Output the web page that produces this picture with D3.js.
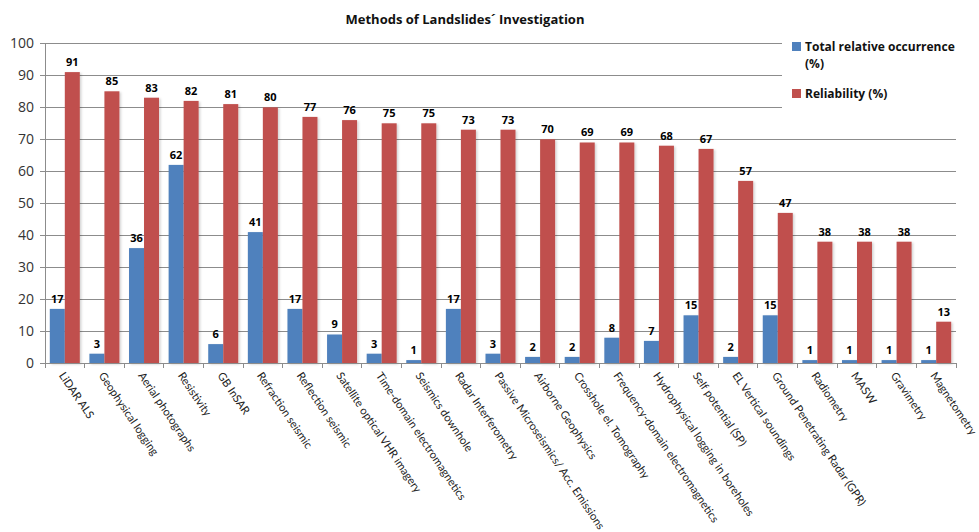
<!DOCTYPE html>
<html>
<head>
<meta charset="utf-8">
<script src="https://cdn.jsdelivr.net/npm/d3@7"></script>
<style>
  html, body { margin: 0; padding: 0; background: #fff; }
  svg { display: block; font-family: "Open Sans", "Noto Sans", sans-serif; }
</style>
</head>
<body>
<svg id="chart" width="979" height="532"></svg>
<script>
// Survey methods, in the order shown on the x axis
const methods = [
  "LiDAR ALS", "Geophysical logging", "Aerial photographs", "Resistivity", "GB InSAR",
  "Refraction seismic", "Reflection seismic", "Satellite optical VHR imagery",
  "Time-domain electromagnetics", "Seismics downhole", "Radar Interferometry",
  "Passive Microseismics/ Acc. Emissions", "Airborne Geophysics", "Crosshole el. Tomography",
  "Frequency-domain electromagnetics", "Hydrophysical logging in boreholes",
  "Self potential (SP)", "EL Vertical soundings", "Ground Penetrating Radar (GPR)",
  "Radiometry", "MASW", "Gravimetry", "Magnetometry"
];

// Total relative occurrence (%)
const occurrence = [17, 3, 36, 62, 6, 41, 17, 9, 3, 1, 17, 3, 2, 2, 8, 7, 15, 2, 15, 1, 1, 1, 1];

// Reliability (%)
const reliability = [91, 85, 83, 82, 81, 80, 77, 76, 75, 75, 73, 73, 70, 69, 69, 68, 67, 57, 47, 38, 38, 38, 13];

const seriesNames = ["Total relative occurrence (%)", "Reliability (%)"];
const seriesColors = ["#4F81BD", "#C0504D"];
const yTicks = [0, 10, 20, 30, 40, 50, 60, 70, 80, 90, 100];

const svg = d3.select("#chart");
const margin = { left: 45, right: 23, top: 43.3, bottom: 168.7 };
const W = 979, H = 532;
const innerW = W - margin.left - margin.right;
const innerH = H - margin.top - margin.bottom;

const rows = methods.map((m, i) => ({ method: m, values: [occurrence[i], reliability[i]] }));

const x0 = d3.scaleBand().domain(methods).range([0, innerW]).paddingInner(0).paddingOuter(0);
const x1 = d3.scaleBand().domain([0, 1]).range([0, x0.bandwidth()]).paddingInner(0).paddingOuter(0.32);
const y = d3.scaleLinear().domain([0, 100]).range([innerH, 0]);

// soft drop shadow under the bars
const defs = svg.append("defs");
const f = defs.append("filter").attr("id", "shadow").attr("x", "-30%").attr("y", "-10%").attr("width", "170%").attr("height", "130%");
f.append("feDropShadow").attr("dx", 1.5).attr("dy", 1).attr("stdDeviation", 1.2).attr("flood-color", "#000").attr("flood-opacity", 0.18);

const g = svg.append("g").attr("transform", `translate(${margin.left},${margin.top})`);

// horizontal gridlines
g.append("g").selectAll("line").data(yTicks.filter(d => d > 0)).join("line")
  .attr("x1", 0).attr("x2", innerW)
  .attr("y1", d => y(d)).attr("y2", d => y(d))
  .attr("stroke", "#8c8c8c").attr("stroke-width", 1).attr("shape-rendering", "crispEdges");

// y axis
const yAxis = g.append("g").call(d3.axisLeft(y).tickValues(yTicks).tickSize(5).tickPadding(6));
yAxis.select(".domain").attr("stroke", "#8c8c8c").attr("shape-rendering", "crispEdges");
yAxis.selectAll(".tick line").attr("stroke", "#8c8c8c").attr("shape-rendering", "crispEdges");
yAxis.selectAll("text").attr("font-size", 14).attr("fill", "#333").attr("font-family", "'Open Sans', sans-serif");

// bars
const groups = g.append("g").selectAll("g").data(rows).join("g")
  .attr("transform", d => `translate(${x0(d.method)},0)`);

groups.selectAll("rect").data(d => d.values.map((v, k) => ({ k, v }))).join("rect")
  .attr("x", d => x1(d.k))
  .attr("width", x1.bandwidth())
  .attr("y", d => y(d.v))
  .attr("height", d => innerH - y(d.v))
  .attr("fill", d => seriesColors[d.k])
  .attr("filter", "url(#shadow)");

// value labels above bars
groups.selectAll("text.val").data(d => d.values.map((v, k) => ({ k, v }))).join("text")
  .attr("class", "val")
  .attr("x", d => x1(d.k) + x1.bandwidth() / 2)
  .attr("y", d => y(d.v) - 6)
  .attr("text-anchor", "middle")
  .attr("font-size", 11)
  .attr("font-weight", "bold")
  .attr("fill", "#000")
  .text(d => d3.format("d")(d.v));

// x axis
const xAxisG = g.append("g").attr("transform", `translate(0,${innerH})`);
xAxisG.append("line").attr("x1", 0).attr("x2", innerW).attr("y1", 0).attr("y2", 0)
  .attr("stroke", "#8c8c8c").attr("shape-rendering", "crispEdges");
xAxisG.selectAll("line.tk").data(d3.range(methods.length + 1)).join("line")
  .attr("class", "tk")
  .attr("x1", i => i * x0.step()).attr("x2", i => i * x0.step())
  .attr("y1", 0).attr("y2", 5)
  .attr("stroke", "#8c8c8c").attr("shape-rendering", "crispEdges");
xAxisG.selectAll("text").data(methods).join("text")
  .attr("transform", d => `translate(${x0(d) + x0.bandwidth() / 2 - 3},${10}) rotate(56)`)
  .attr("text-anchor", "start")
  .attr("dy", "0.35em")
  .attr("font-size", 11.2)
  .attr("font-family", "Lato, sans-serif")
  .attr("fill", "#222")
  .text(d => d);

// title
svg.append("text")
  .attr("x", 465).attr("y", 24)
  .attr("text-anchor", "middle")
  .attr("font-size", 13)
  .attr("font-weight", "bold")
  .attr("fill", "#111")
  .text("Methods of Landslides´ Investigation");

// legend (sits over the top-right of the plot area)
const lg = svg.append("g").attr("transform", "translate(782,32)");
lg.append("rect").attr("x", 0).attr("y", 0).attr("width", 195).attr("height", 82).attr("fill", "#fff");
const legendRows = [
  { name: seriesNames[0], lines: ["Total relative occurrence", "(%)"], y: 14 },
  { name: seriesNames[1], lines: ["Reliability (%)"], y: 61 }
];
legendRows.forEach((r, k) => {
  lg.append("rect").attr("x", 10).attr("y", r.y - 4).attr("width", 9).attr("height", 9).attr("fill", seriesColors[k]);
  const t = lg.append("text").attr("x", 23).attr("y", r.y + 5)
    .attr("font-size", 12).attr("font-weight", "bold").attr("fill", "#111");
  r.lines.forEach((ln, j) => t.append("tspan").attr("x", 23).attr("dy", j === 0 ? 0 : 17).text(ln));
});
</script>
</body>
</html>
